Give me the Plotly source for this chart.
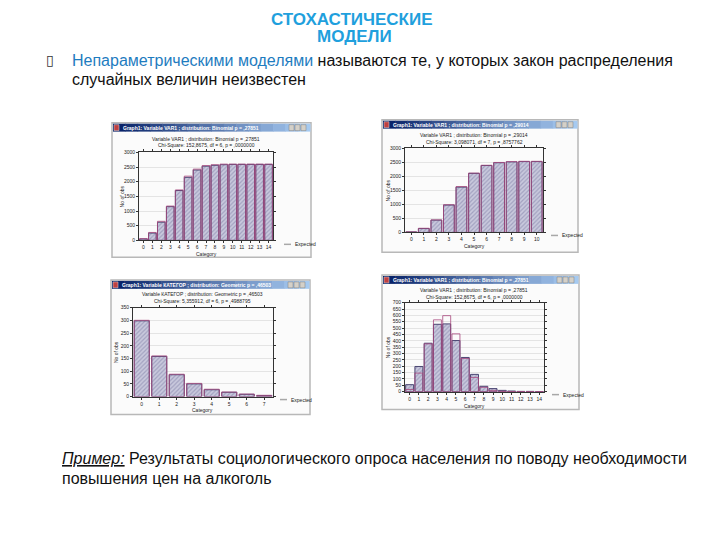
import plotly.graph_objects as go

# page body has an 8 px margin, so the figure is drawn 8 px in from the top-left
OFF = 8
W, H = 720 - OFF, 540 - OFF

# ---------------- data ----------------
cats1 = list(range(15))
obs1 = [50, 250, 620, 1150, 1700, 2150, 2400, 2530, 2560, 2580, 2590, 2590, 2590, 2590, 2590]
exp1 = [60, 270, 650, 1170, 1720, 2190, 2430, 2550, 2580, 2600, 2600, 2600, 2600, 2600, 2600]

cats2 = list(range(11))
obs2 = [20, 140, 440, 980, 1620, 2110, 2390, 2490, 2520, 2530, 2530]
exp2 = [20, 150, 450, 990, 1640, 2120, 2400, 2500, 2530, 2540, 2540]

cats3 = list(range(8))
obs3 = [298, 158, 86, 50, 27, 17, 9, 4]
exp3 = [300, 160, 88, 52, 29, 18, 10, 5]

cats4 = list(range(15))
obs4 = [55, 198, 381, 530, 533, 402, 269, 136, 42, 24, 10, 5, 2, 2, 1]
exp4 = [17, 146, 376, 565, 598, 455, 261, 112, 34, 10, 3, 1, 0, 0, 0]

win_titles = [
    "Graph1: Variable VAR1 ; distribution: Binomial p = ,27851",
    "Graph1: Variable VAR1 ; distribution: Binomial p = ,29014",
    "Graph1: Variable КАТЕГОР ; distribution: Geometric p = ,46503",
    "Graph1: Variable VAR1 ; distribution: Binomial p = ,27851",
]
sub1 = [
    "Variable VAR1 ; distribution: Binomial p = ,27851",
    "Variable VAR1 ; distribution: Binomial p = ,29014",
    "Variable КАТЕГОР ; distribution: Geometric p = ,46503",
    "Variable VAR1 ; distribution: Binomial p = ,27851",
]
sub2 = [
    "Chi-Square: 152,8675, df = 6, p = ,0000000",
    "Chi-Square: 3,098071, df = 7, p = ,8757762",
    "Chi-Square: 5,355912, df = 6, p = ,4988795",
    "Chi-Square: 152,8675, df = 6, p = ,0000000",
]
y_max = [3000, 3000, 350, 700]
y_step = [500, 500, 50, 50]
legend_label = "Expected"
x_title = "Category"
y_title = "No of obs"

series = [(cats1, obs1, exp1), (cats2, obs2, exp2), (cats3, obs3, exp3), (cats4, obs4, exp4)]

# ---------------- layout geometry (page pixels) ----------------
geo = [
    dict(win=(112, 121, 311, 257), plot=(139, 151, 273, 240), s1=137, s2=144, leg=(284, 244)),
    dict(win=(382, 118, 578, 252), plot=(405, 147, 543, 232), s1=133, s2=140, leg=(551, 235)),
    dict(win=(111, 280, 310, 416), plot=(133, 308, 273, 398), s1=294, s2=301, leg=(280, 401)),
    dict(win=(382, 275, 579, 411), plot=(405, 303, 544, 393), s1=290, s2=297, leg=(552, 396)),
]

def px(x):
    return (x - OFF) / W

def py(y):
    return 1 - (y - OFF) / H

FONT = "Liberation Sans, Arial, sans-serif"

fig = go.Figure()
shapes = []
annotations = []
layout_axes = {}

for i, ((cats, obs, exp), g) in enumerate(zip(series, geo)):
    k = "" if i == 0 else str(i + 1)
    xa, ya = "x" + k, "y" + k
    fig.add_trace(go.Bar(
        x=cats, y=obs, xaxis=xa, yaxis=ya, width=0.86, showlegend=False,
        marker=dict(color="#C9C9DD", line=dict(color="#4A4672", width=1),
                    pattern=dict(shape="/", fgcolor="#7C7AA4", size=3, solidity=0.4)),
        hoverinfo="skip",
    ))
    fig.add_trace(go.Bar(
        x=cats, y=exp, xaxis=xa, yaxis=ya, width=0.86, showlegend=False,
        marker=dict(color="rgba(0,0,0,0)", line=dict(color="#A8487E", width=0.8)),
        hoverinfo="skip",
    ))
    l, t, r, b = g["plot"]
    n = len(cats)
    layout_axes["xaxis" + k] = dict(
        domain=[px(l), px(r)], anchor=ya, range=[-0.5, n - 0.5],
        tickvals=cats, ticktext=[str(c) for c in cats],
        showline=True, mirror="ticks", linecolor="#333333", linewidth=1,
        ticks="outside", ticklen=2, tickcolor="#333333",
        tickfont=dict(size=5, family=FONT, color="#222222"),
        showgrid=False, zeroline=False, fixedrange=True,
    )
    layout_axes["yaxis" + k] = dict(
        domain=[py(b), py(t)], anchor=xa, range=[0, y_max[i]], dtick=y_step[i],
        showline=True, mirror="ticks", linecolor="#333333", linewidth=1,
        ticks="outside", ticklen=2, tickcolor="#333333",
        tickfont=dict(size=5, family=FONT, color="#222222"),
        showgrid=True, gridcolor="#E4E4E4", zeroline=False, fixedrange=True,
    )

    # window frame
    wl, wt, wr, wb = g["win"]
    shapes.append(dict(type="rect", xref="paper", yref="paper", layer="below",
                       x0=px(wl), x1=px(wr), y0=py(wb), y1=py(wt),
                       fillcolor="#FBFBFB", line=dict(color="#B8B8B8", width=1.5)))
    # title bar gradient
    nseg = 16
    c0 = (10, 36, 106)
    c1 = (166, 202, 240)
    segw = (wr - wl - 2) / nseg
    for s in range(nseg):
        f = s / (nseg - 1)
        col = "rgb(%d,%d,%d)" % tuple(int(c0[j] + (c1[j] - c0[j]) * f) for j in range(3))
        shapes.append(dict(type="rect", xref="paper", yref="paper", layer="below",
                           x0=px(wl + 1 + s * segw), x1=px(wl + 1 + (s + 1) * segw + 0.5),
                           y0=py(wt + 9), y1=py(wt + 1), fillcolor=col, line=dict(width=0)))
    # window buttons
    for bi in range(3):
        bx = wr - 4 - (3 - bi) * 6
        shapes.append(dict(type="rect", xref="paper", yref="paper", layer="below",
                           x0=px(bx), x1=px(bx + 5), y0=py(wt + 8), y1=py(wt + 2),
                           fillcolor="#D4D0C8", line=dict(color="#808080", width=0.5)))
    # icon
    shapes.append(dict(type="rect", xref="paper", yref="paper", layer="below",
                       x0=px(wl + 2), x1=px(wl + 7), y0=py(wt + 8), y1=py(wt + 2),
                       fillcolor="#C04040", line=dict(color="#E0E0E0", width=0.5)))
    annotations.append(dict(xref="paper", yref="paper", x=px(wl + 9), y=py(wt + 5),
                            xanchor="left", yanchor="middle", showarrow=False,
                            text="<b>" + win_titles[i] + "</b>",
                            font=dict(size=5, color="white", family=FONT)))
    cx = (l + r) / 2
    annotations.append(dict(xref="paper", yref="paper", x=px(cx), y=py(g["s1"]),
                            xanchor="center", yanchor="middle", showarrow=False,
                            text=sub1[i], font=dict(size=5, color="#222222", family=FONT)))
    annotations.append(dict(xref="paper", yref="paper", x=px(cx), y=py(g["s2"]),
                            xanchor="center", yanchor="middle", showarrow=False,
                            text=sub2[i], font=dict(size=5, color="#222222", family=FONT)))
    annotations.append(dict(xref="paper", yref="paper", x=px(cx), y=py(b + 14),
                            xanchor="center", yanchor="middle", showarrow=False,
                            text=x_title, font=dict(size=5, color="#222222", family=FONT)))
    annotations.append(dict(xref="paper", yref="paper", x=px(l - 17), y=py((t + b) / 2),
                            xanchor="center", yanchor="middle", showarrow=False, textangle=-90,
                            text=y_title, font=dict(size=5, color="#222222", family=FONT)))
    lx, ly = g["leg"]
    shapes.append(dict(type="line", xref="paper", yref="paper",
                       x0=px(lx), x1=px(lx + 7), y0=py(ly), y1=py(ly),
                       line=dict(color="#A8A8A8", width=1.5)))
    annotations.append(dict(xref="paper", yref="paper", x=px(lx + 9), y=py(ly),
                            xanchor="left", yanchor="middle", showarrow=False,
                            text=legend_label, font=dict(size=5, color="#222222", family=FONT)))

# ---------------- slide text ----------------
TITLE_COL = "#1FA0DD"
annotations += [
    dict(xref="paper", yref="paper", x=px(352), y=py(17), xanchor="center", yanchor="middle",
         showarrow=False, text="<b>СТОХАСТИЧЕСКИЕ</b>",
         font=dict(size=17, color=TITLE_COL, family=FONT)),
    dict(xref="paper", yref="paper", x=px(354), y=py(34), xanchor="center", yanchor="middle",
         showarrow=False, text="<b>МОДЕЛИ</b>",
         font=dict(size=17, color=TITLE_COL, family=FONT)),
    dict(xref="paper", yref="paper", x=px(44), y=py(58), xanchor="left", yanchor="middle",
         showarrow=False, text="▯", font=dict(size=14, color="#333333", family="DejaVu Sans")),
    dict(xref="paper", yref="paper", x=px(70), y=py(58), xanchor="left", yanchor="middle",
         showarrow=False,
         text="<span style='color:#1E7CC0'>Непараметрическими моделями</span> называются те, у которых закон распределения",
         font=dict(size=16, color="#111111", family=FONT)),
    dict(xref="paper", yref="paper", x=px(70), y=py(77), xanchor="left", yanchor="middle",
         showarrow=False, text="случайных величин неизвестен",
         font=dict(size=16, color="#111111", family=FONT)),
    dict(xref="paper", yref="paper", x=px(60), y=py(461), xanchor="left", yanchor="middle",
         showarrow=False,
         text="<i><u>Пример:</u></i> Результаты социологического опроса населения по поводу необходимости",
         font=dict(size=16, color="#111111", family=FONT)),
    dict(xref="paper", yref="paper", x=px(60), y=py(481), xanchor="left", yanchor="middle",
         showarrow=False, text="повышения цен на алкоголь",
         font=dict(size=16, color="#111111", family=FONT)),
]

fig.update_layout(
    width=W, height=H, margin=dict(l=0, r=0, t=0, b=0),
    paper_bgcolor="white", plot_bgcolor="white",
    barmode="overlay", showlegend=False,
    shapes=shapes, annotations=annotations,
    font=dict(family=FONT),
    **layout_axes,
)

fig.write_html("out.html")
